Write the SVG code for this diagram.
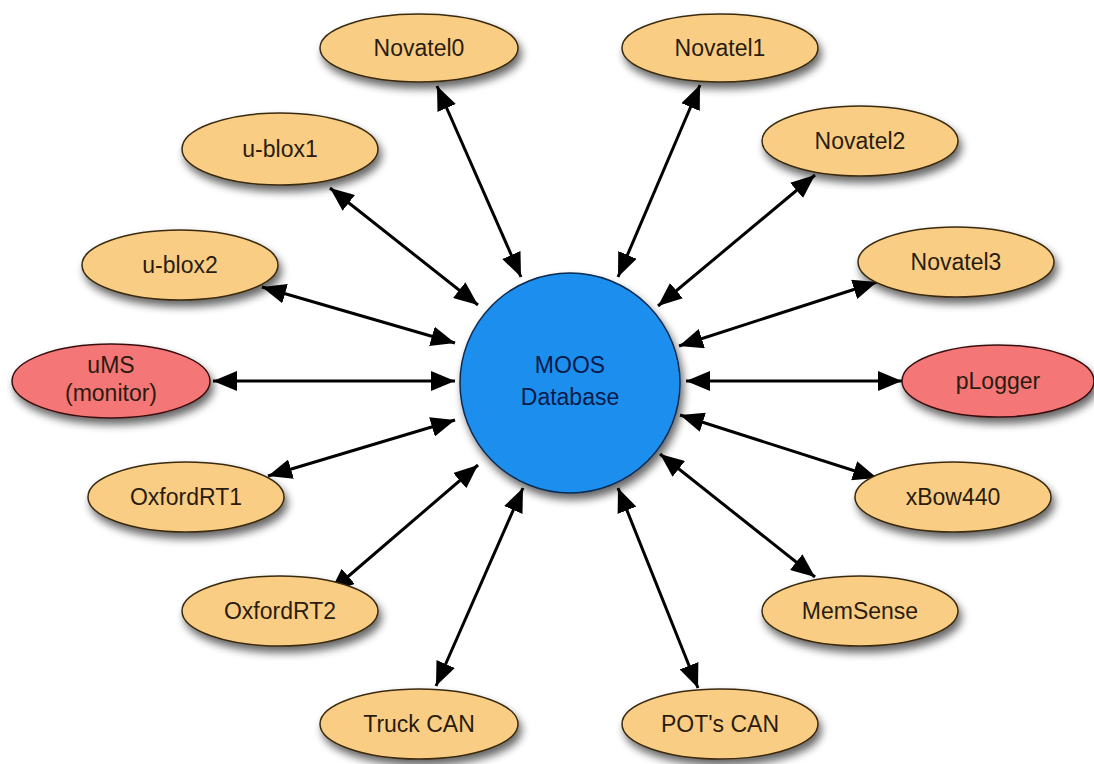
<svg xmlns="http://www.w3.org/2000/svg" width="1094" height="764" viewBox="0 0 1094 764">
<defs>
<filter id="sh" x="-20%" y="-20%" width="150%" height="160%">
<feGaussianBlur in="SourceAlpha" stdDeviation="4"/>
<feOffset dx="3" dy="6" result="b"/>
<feComponentTransfer><feFuncA type="linear" slope="0.6"/></feComponentTransfer>
<feMerge><feMergeNode/><feMergeNode in="SourceGraphic"/></feMerge>
</filter>
<marker id="ah" viewBox="0 0 24 20" refX="24" refY="10" markerWidth="24" markerHeight="20" markerUnits="userSpaceOnUse" orient="auto-start-reverse">
<path d="M0,0 L24,10 L0,20 Z" fill="#000"/>
</marker>
</defs>
<style>
.n ellipse{fill:#F9CE84;stroke:#3a2a10;stroke-width:1.5;filter:url(#sh)}
.r ellipse{fill:#F57676;stroke:#3a1010;stroke-width:1.5;filter:url(#sh)}
text{font-family:"Liberation Sans",Arial,sans-serif;font-size:23px;fill:#2a1c10;text-anchor:middle}
.c line{stroke:#000;stroke-width:3;marker-start:url(#ah);marker-end:url(#ah)}
</style>
<rect width="1094" height="764" fill="#fff"/>
<g class="c" id="connectors">
<line x1="437" y1="86" x2="521" y2="277"/>
<line x1="700" y1="85" x2="618" y2="277"/>
<line x1="815" y1="175" x2="658" y2="306"/>
<line x1="877" y1="282" x2="679" y2="346"/>
<line x1="902" y1="381" x2="686" y2="381"/>
<line x1="877" y1="478" x2="680" y2="415"/>
<line x1="815" y1="577" x2="660" y2="454"/>
<line x1="698" y1="688" x2="618" y2="488"/>
<line x1="436" y1="686" x2="523" y2="488"/>
<line x1="330" y1="592" x2="478" y2="465"/>
<line x1="268" y1="476" x2="455" y2="420"/>
<line x1="213" y1="381" x2="455" y2="381"/>
<line x1="262" y1="287" x2="455" y2="343"/>
<line x1="330" y1="188" x2="478" y2="305"/>
</g>
<g id="moos">
<circle cx="570" cy="383" r="110" fill="#1E8FEE" stroke="#0a2a50" stroke-width="1.5" filter="url(#sh)"/>
<text x="570" y="373" style="fill:#0a1a48">MOOS</text>
<text x="570" y="405" style="fill:#0a1a48">Database</text>
</g>
<g class="n" id="novatel0"><ellipse cx="419" cy="48" rx="99" ry="34"/><text x="419" y="56">Novatel0</text></g>
<g class="n" id="novatel1"><ellipse cx="720" cy="48" rx="98" ry="34"/><text x="720" y="56">Novatel1</text></g>
<g class="n" id="novatel2"><ellipse cx="860" cy="141" rx="98" ry="35"/><text x="860" y="149">Novatel2</text></g>
<g class="n" id="novatel3"><ellipse cx="956" cy="262" rx="98" ry="35"/><text x="956" y="270">Novatel3</text></g>
<g class="r" id="plogger"><ellipse cx="998" cy="381" rx="96" ry="36"/><text x="998" y="389">pLogger</text></g>
<g class="n" id="xbow440"><ellipse cx="953" cy="497" rx="98" ry="35"/><text x="953" y="505">xBow440</text></g>
<g class="n" id="memsense"><ellipse cx="860" cy="611" rx="98" ry="35"/><text x="860" y="619">MemSense</text></g>
<g class="n" id="potscan"><ellipse cx="720" cy="724" rx="98" ry="35"/><text x="720" y="732">POT's CAN</text></g>
<g class="n" id="truckcan"><ellipse cx="419" cy="724" rx="99" ry="35"/><text x="419" y="732">Truck CAN</text></g>
<g class="n" id="oxfordrt2"><ellipse cx="280" cy="611" rx="98" ry="35"/><text x="280" y="619">OxfordRT2</text></g>
<g class="n" id="oxfordrt1"><ellipse cx="186" cy="497" rx="98" ry="35"/><text x="186" y="505">OxfordRT1</text></g>
<g class="r" id="ums"><ellipse cx="111" cy="381" rx="99" ry="37"/><text x="111" y="373">uMS</text><text x="111" y="401">(monitor)</text></g>
<g class="n" id="ublox2"><ellipse cx="180" cy="265" rx="98" ry="35"/><text x="180" y="273">u-blox2</text></g>
<g class="n" id="ublox1"><ellipse cx="280" cy="149" rx="98" ry="36"/><text x="280" y="157">u-blox1</text></g>
</svg>
